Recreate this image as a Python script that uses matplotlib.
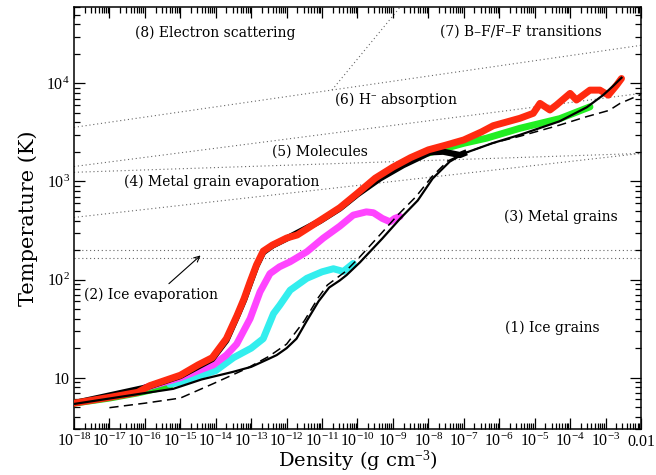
import numpy as np
import matplotlib
matplotlib.use('Agg')
from matplotlib import pyplot as plt
from matplotlib.ticker import FixedLocator, LogLocator, NullFormatter

plt.rcParams['font.family'] = 'DejaVu Serif'
plt.rcParams['mathtext.fontset'] = 'custom'
plt.rcParams['mathtext.rm'] = 'Liberation Serif'
plt.rcParams['mathtext.it'] = 'Liberation Serif:italic'

# log10 density (g cm^-3) and temperature (K)
red_logrho = [-18.0, -17.0, -16.2, -15.86, -15.0, -14.5, -14.1, -13.7, -13.4, -13.2, -13.03,
              -12.85, -12.66, -12.4, -12.0, -11.7, -11.06, -10.5, -10.0, -9.5, -9.0, -8.5,
              -8.0, -7.5, -7.0, -6.5, -6.17, -5.42, -5.04, -4.85, -4.57, -4.38, -4.0,
              -3.82, -3.44, -3.16, -2.92, -2.69, -2.55]
red_T = [5.5, 6.3, 7.1, 8.3, 10.6, 13.5, 16, 25, 43, 64, 95,
         141, 195, 225, 265, 285, 400, 540, 760, 1080, 1400, 1750,
         2100, 2350, 2650, 3200, 3700, 4400, 4950, 6250, 5350, 6030, 7900,
         6760, 8530, 8530, 7580, 9560, 11200]

black_hi_logrho = [-18.0, -16.0, -15.0, -14.1, -13.7, -13.4, -13.2, -13.03, -12.85, -12.66,
                   -12.4, -12.0, -11.06, -10.5, -10.0, -9.37, -8.71, -7.955, -7.58, -7.11, -7.0]
black_hi_T = [5.5, 7.9, 10.4, 15.5, 24, 42, 62, 92, 138, 190,
              222, 262, 395, 530, 740, 1070, 1466, 1980, 2010, 1860, 1930]

black_logrho = [-18.0, -16.2, -15.2, -14.4, -13.5, -13.0, -12.5, -12.28, -12.0, -11.72,
                -11.43, -11.1, -10.8, -10.5, -10.31, -9.93, -9.3, -8.8, -8.3, -7.88, -7.4,
                -7.0, -6.2, -5.4, -4.3, -3.53, -3.07, -2.8, -2.55]
black_T = [5.4, 6.8, 7.7, 9.6, 11.5, 12.9, 15.6, 17, 20, 25,
           38, 60, 83, 98, 111, 150, 262, 417, 640, 1070, 1590,
           1930, 2450, 3000, 4100, 5700, 7580, 9300, 11400]

dash_logrho = [-17.0, -16.0, -15.0, -14.07, -13.13, -12.5, -12.0, -11.5, -11.1, -10.85,
               -10.35, -9.95, -9.35, -8.85, -8.35, -7.9, -7.45, -7.0, -6.2, -5.4, -4.3,
               -3.53, -2.9, -2.59, -2.0]
dash_T = [4.95, 5.5, 6.2, 8.7, 12.4, 16.5, 22, 38, 66, 88,
          120, 168, 290, 460, 700, 1120, 1620, 1930, 2450, 2900, 3750,
          4580, 5300, 6250, 7700]

magenta_logrho = [-16.0, -15.0, -14.5, -14.07, -13.7, -13.41, -13.03, -12.75, -12.47, -12.2,
                  -11.9, -11.43, -10.97, -10.5, -10.12, -9.75, -9.55, -9.3, -9.08, -8.95, -8.8]
magenta_T = [7.9, 10.0, 11.8, 13.5, 17, 22, 40, 75, 115, 135,
             152, 192, 264, 350, 454, 490, 480, 420, 388, 420, 440]

cyan_logrho = [-15.3, -15.0, -14.5, -14.0, -13.5, -13.0, -12.66, -12.37, -12.19, -11.9,
               -11.43, -11.0, -10.68, -10.4, -10.12]
cyan_T = [8.6, 9.0, 10.3, 11.8, 16, 20, 25, 45, 55, 78,
          103, 120, 129, 121, 146]

green_lo_logrho = [-18.0, -17.0, -16.2, -15.29]
green_lo_T = [5.5, 6.2, 7.0, 8.3]
green_hi_logrho = [-8.0, -7.0, -6.36, -5.42, -4.29, -3.44]
green_hi_T = [1950, 2450, 2760, 3480, 4370, 5760]

# opacity regime boundaries (end points)
bound_logrho = [-18.0, -2.0]
bound_T = {
    'es': [3560, 24400],
    'hminus': [1420, 7900],
    'mol': [1240, 1930],
    'metal': [430, 1930],
    'ice_hi': [200, 200],
    'ice_lo': [165, 165],
}
steep_logrho = [-10.72, -8.7]
steep_T = [8550, 66000]

labels = [('(8) Electron scattering', -14.02, 32400),
          ('(7) B\u2013F/F\u2013F transitions', -5.39, 34000),
          ('(6) H$^{-}$ absorption', -8.91, 6780),
          ('(5) Molecules', -11.07, 2020),
          ('(4) Metal grain evaporation', -13.82, 1000),
          ('(3) Metal grains', -4.26, 440),
          ('(2) Ice evaporation', -15.83, 70),
          ('(1) Ice grains', -4.51, 32)]


def rho(lr):
    return 10.0 ** np.asarray(lr)


fig = plt.figure(figsize=(6.56, 4.75), dpi=100)
ax = fig.add_axes([0.1128, 0.0968, 0.8643, 0.8885])

for key, tt in bound_T.items():
    ax.plot(rho(bound_logrho), tt, ls=(0, (1, 2.5)), color='0.4', lw=0.8, zorder=1)
ax.plot(rho(steep_logrho), steep_T, ls=(0, (1, 2.5)), color='0.4', lw=0.8, zorder=1)

ax.plot(rho(green_lo_logrho), green_lo_T, color='#22dd22', lw=5, zorder=2, solid_capstyle='round')
ax.plot(rho(green_hi_logrho), green_hi_T, color='#22ee22', lw=5, zorder=2, solid_capstyle='round')
ax.plot(rho(cyan_logrho), cyan_T, color='#33eeee', lw=5, zorder=3, solid_capstyle='round')
ax.plot(rho(magenta_logrho), magenta_T, color='#ff44ff', lw=5, zorder=3, solid_capstyle='round')
ax.plot(rho(black_hi_logrho), black_hi_T, color='black', lw=4.5, zorder=4)
ax.plot(rho(red_logrho), red_T, color='#ff2a10', lw=5, zorder=5, solid_capstyle='round')
ax.plot(rho(black_logrho), black_T, color='black', lw=1.6, zorder=6)
ax.plot(rho(dash_logrho), dash_T, color='black', lw=1.1, ls=(0, (6, 3.5)), zorder=7)

for txt, lx, ty in labels:
    ax.text(10.0 ** lx, ty, txt, ha='center', va='center', fontsize=10, zorder=8)

ax.annotate('', xy=(10.0 ** -14.37, 184), xytext=(10.0 ** -15.38, 87),
            arrowprops=dict(arrowstyle='->', color='black', lw=0.8))

ax.set_xscale('log')
ax.set_yscale('log')
ax.set_xlim(1e-18, 1e-2)
ax.set_ylim(3, 6e4)

xt = 10.0 ** np.arange(-18, -1)
xl = ['$10^{%d}$' % e for e in range(-18, -2)] + ['$0.01$']
ax.xaxis.set_major_locator(FixedLocator(xt))
ax.set_xticklabels(xl)
ax.xaxis.set_minor_locator(LogLocator(base=10, subs=np.arange(2, 10), numticks=40))
ax.xaxis.set_minor_formatter(NullFormatter())

ax.yaxis.set_major_locator(FixedLocator([10, 100, 1000, 10000]))
ax.set_yticklabels(['$10$', '$10^2$', '$10^3$', '$10^4$'])
ax.yaxis.set_minor_locator(LogLocator(base=10, subs=np.arange(2, 10), numticks=20))
ax.yaxis.set_minor_formatter(NullFormatter())

ax.tick_params(which='both', direction='in', top=True, right=True, width=0.9)
ax.tick_params(which='major', length=8, labelsize=11.4, pad=3)
ax.tick_params(which='minor', length=4)
for s in ax.spines.values():
    s.set_linewidth(1.1)

ax.set_xlabel('Density (g cm$^{-3}$)', fontsize=14, labelpad=-1)
ax.set_ylabel('Temperature (K)', fontsize=15, labelpad=6)

plt.savefig('out.png', dpi=100)
